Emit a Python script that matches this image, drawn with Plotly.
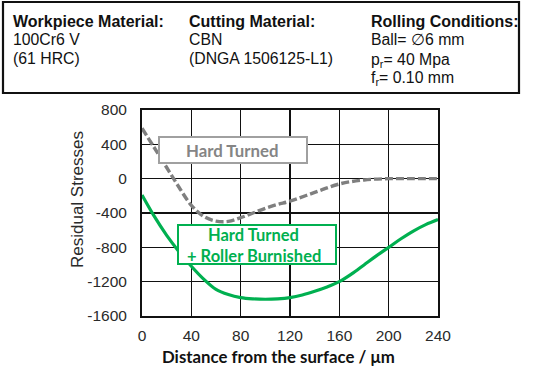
import plotly.graph_objects as go

# ---- data ----
x_hard = [0, 10, 20, 30, 40, 50, 60, 70, 80, 90, 100, 110, 120, 140, 160, 180, 200, 220, 240]
y_hard = [587, 360, 130, -100, -310, -440, -495, -498, -455, -400, -345, -300, -262, -160, -62, -15, 0, 0, 0]

x_rb = [0, 10, 20, 30, 40, 50, 60, 70, 80, 90, 100, 110, 120, 130, 140, 150, 160, 170, 180, 190, 200, 210, 220, 230, 240]
y_rb = [-190, -440, -660, -850, -1020, -1170, -1290, -1350, -1385, -1400, -1405, -1400, -1385, -1355, -1312, -1262, -1200, -1110, -1005, -900, -800, -700, -610, -535, -476]

x_ticks = [0, 40, 80, 120, 160, 200, 240]
y_ticks = [800, 400, 0, -400, -800, -1200, -1600]

W, H = 533, 367
L, R, T, B = 142, 438, 110, 316


def px(x):
    return (x - L) / (R - L)


def py(y):
    return 1 - (y - T) / (B - T)


GREEN = "#00b050"
GRAY = "#858585"

fig = go.Figure()
fig.add_trace(go.Scatter(x=x_hard, y=y_hard, mode="lines",
                         line=dict(color="#7f7f7f", width=3.4, dash="8px,3px", shape="spline", smoothing=1.0),
                         showlegend=False))
fig.add_trace(go.Scatter(x=x_rb, y=y_rb, mode="lines",
                         line=dict(color=GREEN, width=3.2, shape="spline", smoothing=1.0),
                         showlegend=False))

axis_common = dict(showgrid=True, gridcolor="#111111", gridwidth=1.6, zeroline=False,
                   showline=True, linecolor="#111111", linewidth=2, mirror=True,
                   ticks="", tickfont=dict(family="Liberation Sans", size=15.5, color="#2a2a2a"))
fig.update_xaxes(range=[0, 240], tickvals=x_ticks, ticktext=[str(v) for v in x_ticks],
                 ticklabelstandoff=4, **axis_common)
fig.update_yaxes(range=[-1600, 800], tickvals=y_ticks, ticktext=[str(v) for v in y_ticks],
                 ticklabelstandoff=10, **axis_common)

shapes = []
# header box
shapes.append(dict(type="rect", xref="paper", yref="paper", x0=px(3), x1=px(519), y0=py(93), y1=py(2),
                   line=dict(color="#111111", width=2.2), fillcolor="rgba(0,0,0,0)", layer="above"))
# label boxes
shapes.append(dict(type="rect", xref="paper", yref="paper", x0=px(159), x1=px(307), y0=py(163), y1=py(137),
                   line=dict(color="#a0a0a0", width=2), fillcolor="white", layer="above"))
shapes.append(dict(type="rect", xref="paper", yref="paper", x0=px(178), x1=px(336), y0=py(264), y1=py(225),
                   line=dict(color=GREEN, width=2), fillcolor="white", layer="above"))

ann = []


def txt(text, x, y, size, bold=False, color="#111111", family="Liberation Sans", xanchor="left", angle=0):
    t = f"<b>{text}</b>" if bold else text
    ann.append(dict(text=t, xref="paper", yref="paper", x=px(x), y=py(y), xanchor=xanchor, yanchor="middle",
                    showarrow=False, textangle=angle, font=dict(family=family, size=size, color=color)))


HB = 16
HR = 15.8
txt("Workpiece Material:", 11, 21, HB, bold=True)
txt("100Cr6 V", 11, 40, HR)
txt("(61 HRC)", 11, 58, HR)
txt("Cutting Material:", 187, 21, HB, bold=True)
txt("CBN", 187, 40, HR)
txt("(DNGA 1506125-L1)", 187, 58, HR)
txt("Rolling Conditions:", 369, 21, HB, bold=True)
txt("Ball= \u22056 mm", 369, 40, HR)
txt("p<sub>r</sub>= 40 Mpa", 369, 60, HR)
txt("f<sub>r</sub>= 0.10 mm", 369, 78, HR)

txt("Hard Turned", 232, 150, 16.8, bold=True, color=GRAY, family="Lato", xanchor="center")
txt("Hard Turned", 253, 235, 16.5, bold=True, color=GREEN, family="Lato", xanchor="center")
txt("+ Roller Burnished", 254, 256, 16.5, bold=True, color=GREEN, family="Lato", xanchor="center")

txt("Residual Stresses", 77, 200, 17, color="#2a2a2a", xanchor="center", angle=-90)
txt("Distance from the surface / \u03bcm", 278, 356, 16.8, bold=True, color="#111111", family="Lato", xanchor="center")

fig.update_layout(width=W, height=H, margin=dict(l=L, r=W - R, t=T, b=H - B, pad=0),
                  plot_bgcolor="white", paper_bgcolor="white", shapes=shapes, annotations=ann,
                  showlegend=False)

fig.write_html("out.html", config={"displayModeBar": False, "staticPlot": True},
               post_script="document.body.style.margin='0';document.body.style.overflow='hidden';")
